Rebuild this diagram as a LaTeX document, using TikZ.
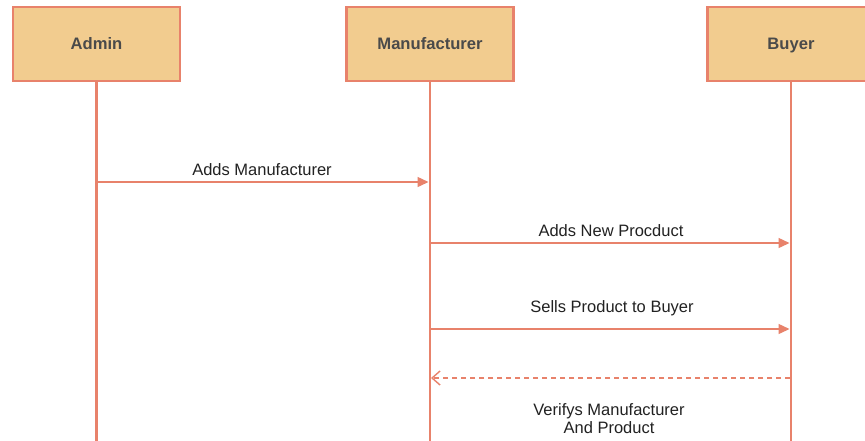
\documentclass[tikz,border=0pt]{standalone}
\usepackage{fontspec}
\setmainfont{Liberation Sans}
\usetikzlibrary{arrows.meta}
\definecolor{boxfill}{HTML}{F2CC8F}
\definecolor{lineclr}{HTML}{E8826B}
\definecolor{boxtext}{HTML}{4A4A4A}
\definecolor{labeltext}{HTML}{222222}
\begin{document}
\begin{tikzpicture}[x=1pt,y=-1pt,
  actor/.style={draw=lineclr,line width=2.2pt,fill=boxfill,minimum width=167pt,minimum height=74pt,
    font=\fontsize{16.6pt}{19pt}\selectfont\bfseries,text=boxtext,inner sep=0pt,
    text height=11.8pt,text depth=0pt},
  lifeline/.style={draw=lineclr,line width=2.4pt},
  msg/.style={draw=lineclr,line width=1.4pt,-{Triangle[width=10pt,length=11pt]}},
  reply/.style={draw=lineclr,line width=1.4pt,dash pattern=on 5pt off 4pt,-{Straight Barb[width=14pt,length=8pt,line width=1.4pt]}},
  lbl/.style={font=\fontsize{16.5pt}{19pt}\selectfont,text=labeltext,align=center,inner sep=0pt}]
\useasboundingbox (0,0) rectangle (865,440);
\clip (0,0) rectangle (865,440);
\fill[white] (0,0) rectangle (865,440);
% lifelines
\coordinate (aend) at (96.5,445);
\coordinate (mend) at (430,445);
\coordinate (bend) at (791,445);
\node[actor] (admin) at (96.5,44) {Admin};
\node[actor] (manu) at (430,44) {Manufacturer};
\node[actor] (buyer) at (791,44) {Buyer};
\draw[lifeline] (admin.south) -- (aend);
\draw[lifeline] (manu.south) -- (mend);
\draw[lifeline] (buyer.south) -- (bend);
% message points
\coordinate (a1) at (96.5,182);
\coordinate (m1) at (428.5,182);
\coordinate (m2) at (430,243);
\coordinate (b2) at (789.5,243);
\coordinate (m3) at (430,329);
\coordinate (b3) at (789.5,329);
\coordinate (b4) at (790,378);
\coordinate (m4) at (431,378);
\draw[msg] (a1) -- (m1);
\draw[msg] (m2) -- (b2);
\draw[msg] (m3) -- (b3);
\draw[reply] (b4) -- (m4);
% labels
\node[lbl] (l1) at (262,170) {Adds Manufacturer};
\node[lbl] (l2) at (611,231) {Adds New Procduct};
\node[lbl] (l3) at (612,308) {Sells Product to Buyer};
\node[lbl,font=\fontsize{16.5pt}{18pt}\selectfont] (l4) at (609,419) {Verifys Manufacturer\\And Product};
\end{tikzpicture}
\end{document}
